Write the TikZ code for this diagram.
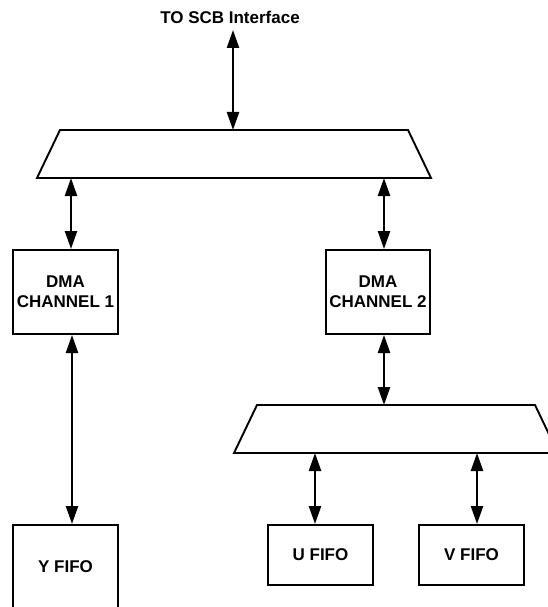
\documentclass[tikz,border=0pt]{standalone}
\usepackage{fontspec}
\setmainfont{Liberation Sans}
\usetikzlibrary{arrows.meta}
\begin{document}
\begin{tikzpicture}[x=1pt,y=-1pt,
  box/.style={draw,line width=2pt,inner sep=0pt,align=center,font=\fontsize{17}{20}\selectfont\bfseries},
  mux/.style={draw,line width=1.9pt,line join=miter},
  link/.style={line width=2.4pt,{Triangle[length=18pt,width=12pt]}-{Triangle[length=18pt,width=12pt]}}]
\useasboundingbox (0,0) rectangle (548,607);
\begin{scope}
\clip (0,0) rectangle (548,607);
% labels and boxes
\node[font=\fontsize{17}{20}\selectfont\bfseries] (scb) at (230,17) {TO SCB Interface};
\node[box,minimum width=105pt,minimum height=84pt] (dma1) at (65.5,292) {DMA\\CHANNEL 1};
\node[box,minimum width=104pt,minimum height=84pt] (dma2) at (378,292) {DMA\\CHANNEL 2};
\node[box,minimum width=105pt,minimum height=84pt] (yfifo) at (65.5,567) {Y FIFO};
\node[box,minimum width=105pt,minimum height=60pt] (ufifo) at (320.5,555) {U FIFO};
\node[box,minimum width=105pt,minimum height=60pt] (vfifo) at (471.5,555) {V FIFO};
% multiplexers
\draw[mux] (60,130) coordinate (m1tl) -- (408,130) -- (431,178) -- (37,178) coordinate (m1bl) -- cycle;
\draw[mux] (257,405) coordinate (m2tl) -- (535,405) -- (558,453) -- (234,453) coordinate (m2bl) -- cycle;
% connector end points
\coordinate (top) at (233,30);
\coordinate (c1) at (71,0);
\coordinate (c2) at (384,0);
\coordinate (c3) at (72,0);
\coordinate (c4) at (315,0);
\coordinate (c5) at (477,0);
% connectors
\draw[link] (top) -- (top |- m1tl);
\draw[link] (c1 |- m1bl) -- (c1 |- dma1.north);
\draw[link] (c2 |- m1bl) -- (c2 |- dma2.north);
\draw[link] (c3 |- dma1.south) -- (c3 |- yfifo.north);
\draw[link] (c2 |- dma2.south) -- (c2 |- m2tl);
\draw[link] (c4 |- m2bl) -- (c4 |- ufifo.north);
\draw[link] (c5 |- m2bl) -- (c5 |- vfifo.north);
\end{scope}
\end{tikzpicture}
\end{document}
